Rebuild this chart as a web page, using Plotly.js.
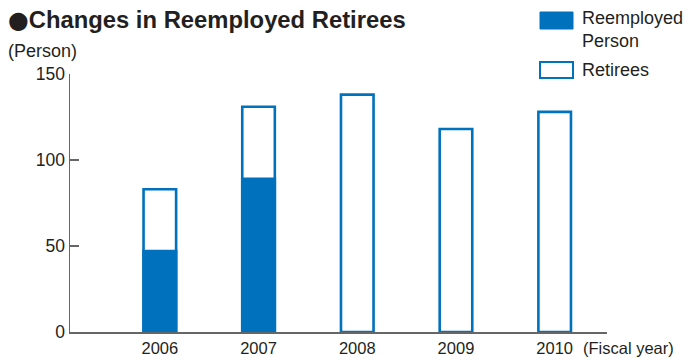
<!DOCTYPE html>
<html><head><meta charset="utf-8">
<script src="https://cdn.plot.ly/plotly-3.0.1.min.js"></script>
<style>html,body{margin:0;padding:0;background:#fff}#c{width:689px;height:358px}</style>
</head><body><div id="c"></div>
<script>
const years = ['2006','2007','2008','2009','2010'];
const retirees = [83, 131, 138, 118, 128];
const reemployed = [47, 89, null, null, null];
const yTicks = [0, 50, 100, 150];

const blue = '#0071BC';
const txt = '#231F20';
const fontFam = 'Liberation Sans, Arial, Helvetica, sans-serif';

const data = [
  {type:'bar', x:years, y:retirees, name:'Retirees', width:0.33,
   marker:{color:'#ffffff', line:{color:blue, width:2.6}}, showlegend:false, hoverinfo:'skip'},
  {type:'bar', x:years, y:reemployed, name:'Reemployed Person', width:0.33,
   marker:{color:blue, line:{color:blue, width:2.6}}, showlegend:false, hoverinfo:'skip'}
];

const layout = {
  width:689, height:358,
  margin:{l:70, r:82, t:74, b:26},
  paper_bgcolor:'#fff', plot_bgcolor:'#fff',
  barmode:'overlay',
  font:{family:fontFam, color:txt, size:17},
  xaxis:{type:'category', range:[-0.91, 4.53], showgrid:false, zeroline:false,
    showline:true, linecolor:'#666', linewidth:1.5, ticks:'',
    tickfont:{size:16.5, color:txt}, ticklabelstandoff:1, fixedrange:true},
  yaxis:{range:[0,150], tickvals:yTicks, showgrid:false, zeroline:false,
    showline:true, linecolor:'#666', linewidth:1.5, ticks:'inside', ticklen:9,
    tickcolor:'#666', tickwidth:1.2, tickfont:{size:17.5, color:txt}, fixedrange:true},
  shapes:[
    {type:'rect', xref:'paper', yref:'paper', x0:(540-70)/537, x1:(573-70)/537,
     y0:(332-29)/258, y1:(332-12)/258, fillcolor:blue, line:{color:blue, width:1}},
    {type:'rect', xref:'paper', yref:'paper', x0:(540-70)/537, x1:(573-70)/537,
     y0:(332-78)/258, y1:(332-62)/258, fillcolor:'#fff', line:{color:blue, width:2}}
  ],
  annotations:[
    {text:'<span style="font-family:DejaVu Sans">●</span><b>Changes in Reemployed Retirees</b>', xref:'paper', yref:'paper',
     x:-64/537, y:(332-20)/258, xanchor:'left', yanchor:'middle', showarrow:false,
     font:{size:23.8, color:txt}},
    {text:'(Person)', xref:'paper', yref:'paper', x:-64/537, y:(332-51)/258,
     xanchor:'left', yanchor:'middle', showarrow:false, font:{size:18, color:txt}},
    {text:'Reemployed<br>Person', xref:'paper', yref:'paper', x:(580-70)/537, y:(332-30)/258,
     xanchor:'left', yanchor:'middle', align:'left', showarrow:false, font:{size:18, color:txt}},
    {text:'Retirees', xref:'paper', yref:'paper', x:(580-70)/537, y:(332-70)/258,
     xanchor:'left', yanchor:'middle', showarrow:false, font:{size:18, color:txt}},
    {text:'(Fiscal year)', xref:'paper', yref:'paper', x:(581-70)/537, y:(332-348)/258,
     xanchor:'left', yanchor:'middle', showarrow:false, font:{size:16.5, color:txt}}
  ]
};

Plotly.newPlot('c', data, layout, {staticPlot:true, displayModeBar:false});
</script></body></html>
